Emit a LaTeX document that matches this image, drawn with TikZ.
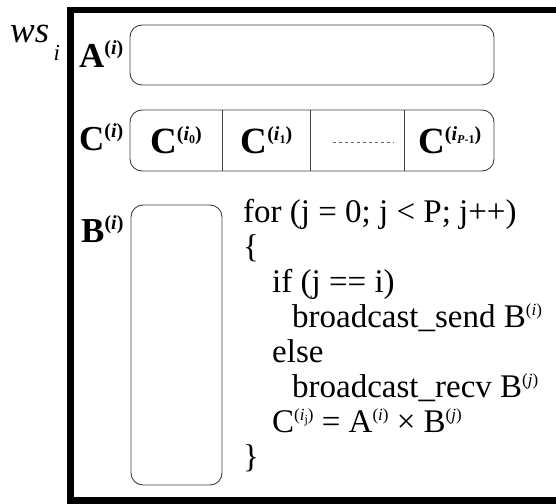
\documentclass[tikz,border=0pt]{standalone}
\usepackage{fontspec}
\setmainfont{Liberation Serif}
\usetikzlibrary{positioning}
\newcommand{\supx}[1]{\raisebox{12pt}{\fontsize{17}{17}\selectfont #1}}
\newcommand{\supb}[1]{\raisebox{13pt}{\fontsize{20}{20}\selectfont #1}}
\newcommand{\subx}[1]{\raisebox{-3pt}{\fontsize{12}{12}\selectfont #1}}

\begin{document}
\begin{tikzpicture}[x=1pt, y=-1pt,
    box/.style={draw=black!75, line width=0.9pt, rounded corners=12pt},
    lbl/.style={anchor=base west, inner sep=0pt, font=\fontsize{35}{36}\selectfont\bfseries},
    cell/.style={minimum height=61pt, inner sep=0pt, font=\fontsize{37}{38}\selectfont\bfseries},
    code/.style={anchor=base west, inner sep=0pt, font=\fontsize{33}{36}\selectfont}]
	\useasboundingbox (0,0) rectangle (556,503);
	\clip (0,0) rectangle (556,503);
	% frame
	\draw[line width=6.5pt] (556,10) -- (70.5,10) -- (70.5,500.5) -- (556,500.5);
	\node[anchor=base west, inner sep=0pt, font=\fontsize{37}{38}\selectfont\itshape] (ws) at (10,42) {ws};
	\node[anchor=base west, inner sep=0pt, font=\fontsize{23}{24}\selectfont\itshape] (wsi) at ([xshift=4pt,yshift=-18pt]ws.base east) {i};
	% A row
	\node[lbl] (alabel) at (79,67) {A\supb{(\textit{i})}};
	\node[box, minimum width=364pt, minimum height=60pt] (abox) at (312,55) {};
	% C row
	\node[lbl] (clabel) at (79,150) {C\supb{(\textit{i})}};
	\node[box, minimum width=364pt, minimum height=61pt] (cbox) at (312,140.5) {};
	\node[cell, minimum width=92pt] (c0) at (176,140.5) {C\supb{(\textit{i}\subx{0})}};
	\node[cell, minimum width=88pt, right=0pt of c0] (c1) {C\supb{(\textit{i}\subx{1})}};
	\node[cell, minimum width=93pt, right=0pt of c1] (c2) {};
	\node[cell, minimum width=91pt, right=0pt of c2] (c3) {C\supb{(\textit{i}\subx{\textit{P}-1})}};
	\foreach \c in {c0,c1,c2}
		\draw[black!75, line width=0.9pt] (\c.north east) -- (\c.south east);
	\draw[black!60, line width=0.8pt, dash pattern=on 3.5pt off 2.5pt] ([xshift=22pt,yshift=-1.5pt]c2.west) -- ([xshift=-10pt,yshift=-1.5pt]c2.east);
	% B column
	\node[lbl] (blabel) at (81,242) {B\supb{(\textit{i})}};
	\node[box, minimum width=91pt, minimum height=280pt] (bbox) at (176.5,345) {};
	% loop
	\node[code] (l1) at (243,222) {for (j = 0; j < P; j++)};
	\node[code] (l2) at (243,257) {\{};
	\node[code] (l3) at (272,292) {if (j == i)};
	\node[code] (l4) at (292,327) {broadcast\_send B\supx{(\textit{i})}};
	\node[code] (l5) at (272,362) {else};
	\node[code] (l6) at (292,397) {broadcast\_recv B\supx{(\textit{j})}};
	\node[code] (l7) at (272,432) {C\supx{(\textit{i}\subx{j})} = A\supx{(\textit{i})} × B\supx{(\textit{j})}};
	\node[code] (l8) at (243,467) {\}};
\end{tikzpicture}
\end{document}
